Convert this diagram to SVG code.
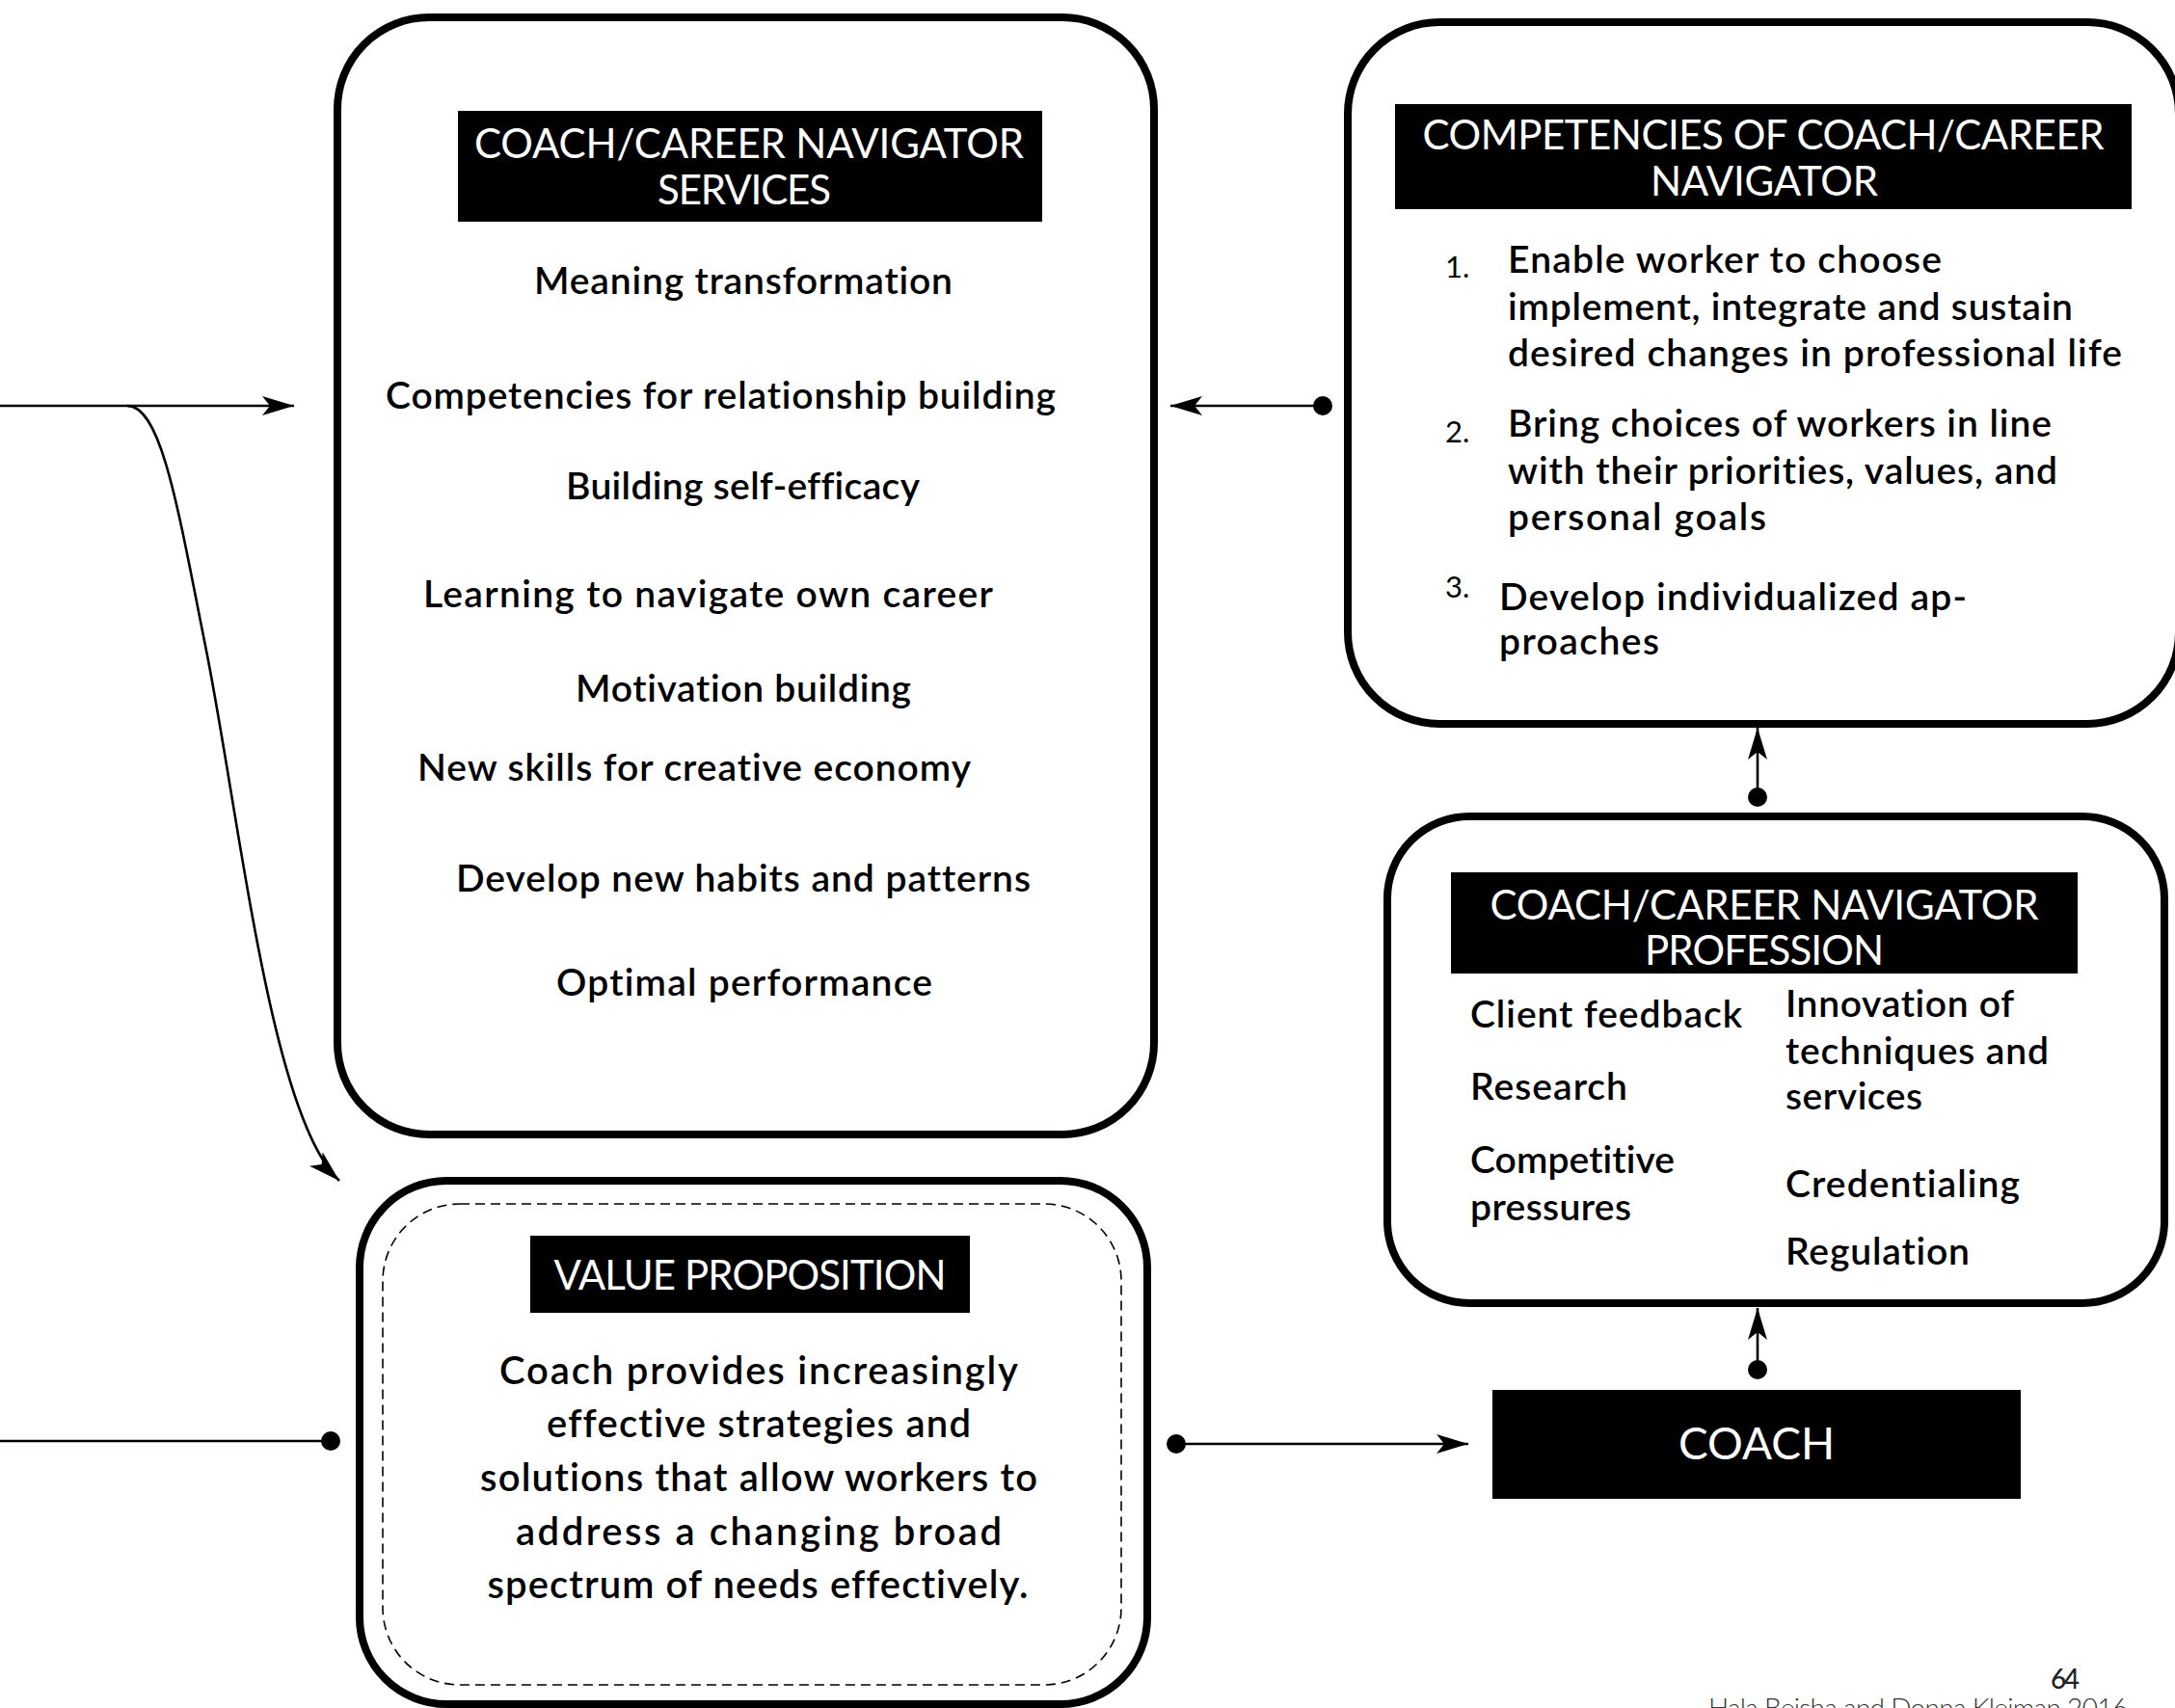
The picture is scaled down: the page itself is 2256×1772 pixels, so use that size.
<svg xmlns="http://www.w3.org/2000/svg" width="2256" height="1772" viewBox="0 0 2256 1772">
<style>
.box{fill:#fff;stroke:#000;stroke-width:8}
.dash{fill:none;stroke:#000;stroke-width:1.6;stroke-dasharray:10 6}
.hdr{fill:#000}
.ht{font-family:Lato,"Liberation Sans",sans-serif;font-size:42px;fill:#fff;text-anchor:middle}
.bt{font-family:Lato,"Liberation Sans",sans-serif;font-size:39px;fill:#000;font-weight:600;font-variant-ligatures:no-common-ligatures}
.num{font-family:Lato,"Liberation Sans",sans-serif;font-size:31px;fill:#000}
.vt{font-family:Lato,"Liberation Sans",sans-serif;font-size:40px;fill:#000;text-anchor:middle;font-weight:600;font-variant-ligatures:no-common-ligatures}
.conn{fill:none;stroke:#000;stroke-width:2.6}
</style>
<defs>
<marker id="arr" markerUnits="userSpaceOnUse" markerWidth="40" markerHeight="30" viewBox="-36 -15 40 30" refX="0" refY="0" orient="auto">
<path d="M0,0 L-33,-10 L-25,0 L-33,10 Z" fill="#000"/>
</marker>
<marker id="dot" markerUnits="userSpaceOnUse" markerWidth="24" markerHeight="24" viewBox="-12 -12 24 24" refX="0" refY="0" orient="auto">
<circle cx="0" cy="0" r="10" fill="#000"/>
</marker>
</defs>

<g id="services">
<rect class="box" x="350" y="18" width="847" height="1159" rx="95"/>
<rect class="hdr" x="475" y="115" width="606" height="115"/>
<text class="ht" x="777" y="164" textLength="570">COACH/CAREER NAVIGATOR</text>
<text class="ht" x="772" y="212" textLength="180">SERVICES</text>
<text class="bt" x="554" y="305" textLength="434">Meaning transformation</text>
<text class="bt" x="400" y="424" textLength="695">Competencies for relationship building</text>
<text class="bt" x="587" y="518" textLength="367">Building self-efficacy</text>
<text class="bt" x="439" y="630" textLength="591">Learning to navigate own career</text>
<text class="bt" x="597" y="728" textLength="348">Motivation building</text>
<text class="bt" x="433" y="810" textLength="574">New skills for creative economy</text>
<text class="bt" x="473" y="925" textLength="596">Develop new habits and patterns</text>
<text class="bt" x="577" y="1033" textLength="390">Optimal performance</text>
</g>

<g id="competencies">
<rect class="box" x="1398" y="23" width="862" height="728" rx="95"/>
<rect class="hdr" x="1447" y="108" width="764" height="109"/>
<text class="ht" x="1829" y="155" textLength="707">COMPETENCIES OF COACH/CAREER</text>
<text class="ht" x="1830" y="203" textLength="236">NAVIGATOR</text>
<text class="num" x="1499" y="288">1.</text>
<text class="bt" x="1564" y="283" textLength="450">Enable worker to choose</text>
<text class="bt" x="1564" y="332" textLength="586">implement, integrate and sustain</text>
<text class="bt" x="1564" y="380" textLength="637">desired changes in professional life</text>
<text class="num" x="1499" y="459">2.</text>
<text class="bt" x="1564" y="453" textLength="564">Bring choices of workers in line</text>
<text class="bt" x="1564" y="502" textLength="570">with their priorities, values, and</text>
<text class="bt" x="1564" y="550" textLength="268">personal goals</text>
<text class="num" x="1499" y="620">3.</text>
<text class="bt" x="1555" y="633" textLength="485">Develop individualized ap-</text>
<text class="bt" x="1555" y="679" textLength="166">proaches</text>
</g>

<g id="profession">
<rect class="box" x="1439" y="847" width="806" height="505" rx="85"/>
<rect class="hdr" x="1505" y="905" width="650" height="105"/>
<text class="ht" x="1830" y="954" textLength="569">COACH/CAREER NAVIGATOR</text>
<text class="ht" x="1830" y="1001" textLength="248">PROFESSION</text>
<text class="bt" x="1525" y="1066" textLength="282">Client feedback</text>
<text class="bt" x="1525" y="1141" textLength="163">Research</text>
<text class="bt" x="1525" y="1217" textLength="212">Competitive</text>
<text class="bt" x="1525" y="1266" textLength="167">pressures</text>
<text class="bt" x="1852" y="1055" textLength="237">Innovation of</text>
<text class="bt" x="1852" y="1104" textLength="273">techniques and</text>
<text class="bt" x="1852" y="1151" textLength="142">services</text>
<text class="bt" x="1852" y="1242" textLength="243">Credentialing</text>
<text class="bt" x="1852" y="1312" textLength="191">Regulation</text>
</g>

<g id="value-proposition">
<rect class="box" x="373" y="1225" width="817" height="543" rx="90"/>
<rect class="dash" x="397" y="1249" width="766" height="499" rx="80"/>
<rect class="hdr" x="550" y="1282" width="456" height="80"/>
<text class="ht" x="778" y="1338" textLength="407">VALUE PROPOSITION</text>
<text class="vt" x="787" y="1436" textLength="538">Coach provides increasingly</text>
<text class="vt" x="787" y="1491" textLength="440">effective strategies and</text>
<text class="vt" x="787" y="1547" textLength="578">solutions that allow workers to</text>
<text class="vt" x="787" y="1603" textLength="504">address a changing broad</text>
<text class="vt" x="786" y="1658" textLength="561">spectrum of needs effectively.</text>
</g>

<g id="coach">
<rect class="hdr" x="1548" y="1442" width="548" height="113"/>
<text class="ht" x="1822" y="1514" style="font-size:46px">COACH</text>
</g>

<g id="connectors">
<path class="conn" d="M0,421 L305,421" marker-end="url(#arr)"/>
<path class="conn" d="M132,421 C168,421 185,530 215,680 C250,860 282,1160 352,1225" marker-end="url(#arr)"/>
<path class="conn" d="M1372,421 L1214,421" marker-start="url(#dot)" marker-end="url(#arr)"/>
<path class="conn" d="M1823,827 L1823,755" marker-start="url(#dot)" marker-end="url(#arr)"/>
<path class="conn" d="M1823,1421 L1823,1357" marker-start="url(#dot)" marker-end="url(#arr)"/>
<path class="conn" d="M0,1495 L343,1495" marker-end="url(#dot)"/>
<path class="conn" d="M1220,1498 L1523,1498" marker-start="url(#dot)" marker-end="url(#arr)"/>
</g>

<g id="footer">
<text x="2127" y="1752" style="font-family:Lato,'Liberation Sans',sans-serif;font-size:28px;font-weight:500;fill:#222" textLength="30">64</text>
<text x="1772" y="1782" style="font-family:Lato,'Liberation Sans',sans-serif;font-size:28px;font-weight:300;fill:#333" textLength="435">Hala Beisha and Donna Kleiman 2016</text>
</g>
</svg>
